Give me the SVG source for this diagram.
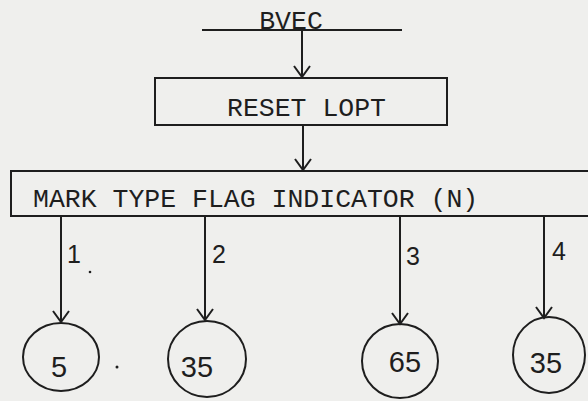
<svg xmlns="http://www.w3.org/2000/svg" width="588" height="401" viewBox="0 0 588 401">
<style>
.ln{stroke:#1e1e1e;stroke-width:2;fill:none}
.box{stroke:#1e1e1e;stroke-width:2;fill:none}
.tw{font-family:"Liberation Mono","DejaVu Sans Mono",monospace;font-size:26.5px;fill:#1e1e1e}
.lb{font-family:"Liberation Sans","DejaVu Sans",sans-serif;font-size:25px;fill:#1e1e1e}
.num{font-family:"Liberation Sans","DejaVu Sans",sans-serif;font-size:29px;fill:#1e1e1e;text-anchor:middle}
</style>
<defs>
<marker id="arr" markerWidth="20" markerHeight="20" refX="12" refY="10" orient="auto" markerUnits="userSpaceOnUse" viewBox="0 0 20 20">
<polyline points="1,2 12,10 1,18" fill="none" stroke="#1e1e1e" stroke-width="2"/>
</marker>
</defs>
<rect width="588" height="401" fill="#efefed"/>
<g id="bvec">
<line class="ln" x1="202" y1="30" x2="402" y2="30"/>
<text class="tw" x="291" y="29" text-anchor="middle">BVEC</text>
</g>
<g id="reset">
<rect class="box" x="155" y="78" width="292" height="47"/>
<text class="tw" x="227" y="116">RESET LOPT</text>
</g>
<g id="mark">
<rect class="box" x="11" y="171" width="590" height="45"/>
<text class="tw" x="33" y="207">MARK TYPE FLAG INDICATOR (N)</text>
</g>
<g id="n1">
<ellipse class="box" cx="61" cy="357" rx="38" ry="34"/>
<text class="num" x="59" y="377">5</text>
</g>
<g id="n2">
<ellipse class="box" cx="207" cy="359" rx="39" ry="38"/>
<text class="num" x="197" y="377">35</text>
</g>
<g id="n3">
<ellipse class="box" cx="400" cy="361" rx="38" ry="37"/>
<text class="num" x="405" y="372">65</text>
</g>
<g id="n4">
<ellipse class="box" cx="549" cy="355" rx="36" ry="38"/>
<text class="num" x="546" y="373">35</text>
</g>
<g id="connectors">
<line class="ln" x1="302" y1="30" x2="302" y2="77" marker-end="url(#arr)"/>
<line class="ln" x1="303" y1="125" x2="303" y2="170" marker-end="url(#arr)"/>
<line class="ln" x1="61" y1="216" x2="61" y2="322" marker-end="url(#arr)"/>
<line class="ln" x1="205" y1="216" x2="205" y2="320" marker-end="url(#arr)"/>
<line class="ln" x1="400" y1="216" x2="400" y2="324" marker-end="url(#arr)"/>
<line class="ln" x1="544" y1="216" x2="544" y2="318" marker-end="url(#arr)"/>
<text class="lb" x="67" y="263">1</text>
<text class="lb" x="212" y="263">2</text>
<text class="lb" x="406" y="265">3</text>
<text class="lb" x="552" y="260">4</text>
</g>
<circle cx="90" cy="272" r="1.3" fill="#1e1e1e"/>
<circle cx="117" cy="367" r="1.5" fill="#1e1e1e"/>
</svg>
